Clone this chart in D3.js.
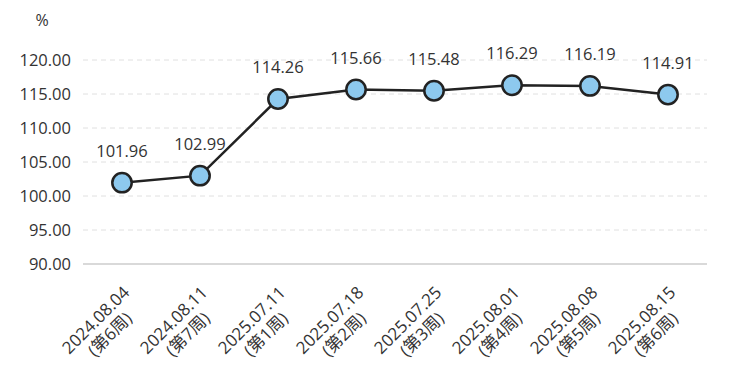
<!DOCTYPE html>
<html>
<head>
<meta charset="utf-8">
<script src="https://cdn.jsdelivr.net/npm/d3@7"></script>
<style>
  body { margin: 0; background: #fff; }
  text { font-family: "Open Sans", "Noto Sans CJK SC", sans-serif; fill: #333; }
</style>
</head>
<body>
<svg id="chart" width="736" height="376"></svg>
<script>
const dates = ['2024.08.04','2024.08.11','2025.07.11','2025.07.18','2025.07.25','2025.08.01','2025.08.08','2025.08.15']
const weeks = ['(第6周)','(第7周)','(第1周)','(第2周)','(第3周)','(第4周)','(第5周)','(第6周)']
const values = [101.96, 102.99, 114.26, 115.66, 115.48, 116.29, 116.19, 114.91]
const yTicks = [90, 95, 100, 105, 110, 115, 120]

const svg = d3.select('#chart')
const margin = {left: 83, right: 29, top: 60, bottom: 112}
const width = 736, height = 376

var x = d3.scaleBand().domain(dates).range([margin.left, width - margin.right])
var y = d3.scaleLinear().domain([90, 120]).range([height - margin.bottom, margin.top])

// gridlines
svg.append('g')
    .selectAll('line')
    .data(yTicks.filter(d => d !== 90))
    .enter()
    .append('line')
    .attr('x1', margin.left).attr('x2', width - margin.right)
    .attr('y1', d => y(d)).attr('y2', d => y(d))
    .attr('stroke', '#e0e0e0')
    .attr('stroke-dasharray', '5,4')

// y labels
svg.append('g')
    .selectAll('text')
    .data(yTicks)
    .enter()
    .append('text')
    .attr('x', 71)
    .attr('y', d => y(d))
    .attr('dy', '0.36em')
    .attr('text-anchor', 'end')
    .style('font-size', '16.5px')
    .text(d => d.toFixed(2))

svg.append('text')
    .attr('x', 42).attr('y', 26)
    .attr('text-anchor', 'middle')
    .style('font-size', '16px')
    .text('%')

// x axis line
svg.append('line')
    .attr('x1', margin.left).attr('x2', width - margin.right)
    .attr('y1', y(90)).attr('y2', y(90))
    .attr('stroke', '#d9d9d9')
    .attr('stroke-width', 2)

// x labels, rotated, two lines centred on each other
const cx = d => x(d) + x.bandwidth() / 2
var xl = svg.append('g')
    .selectAll('text')
    .data(dates)
    .enter()
    .append('text')
    .attr('transform', d => `translate(${cx(d) + 10},${y(90) + 31}) rotate(-45)`)
    .attr('text-anchor', 'middle')
    .style('font-size', '17px')
xl.append('tspan').attr('class', 'l1').attr('y', -2).text(d => d)
xl.append('tspan').attr('class', 'l2').attr('y', 18).text((d, i) => weeks[i])
xl.each(function () {
    const t = d3.select(this)
    const w = t.select('.l1').node().getComputedTextLength()
    t.selectAll('tspan').attr('x', -w / 2)
})

// line
const pts = dates.map((d, i) => [cx(d), y(values[i])])
svg.append('path')
    .attr('d', d3.line()(pts))
    .attr('fill', 'none')
    .attr('stroke', '#222')
    .attr('stroke-width', 2.5)

svg.append('g')
    .selectAll('circle')
    .data(pts)
    .enter()
    .append('circle')
    .attr('cx', d => d[0]).attr('cy', d => d[1])
    .attr('r', 9.7)
    .attr('fill', '#8dc9ee')
    .attr('stroke', '#222')
    .attr('stroke-width', 2.5)

svg.append('g')
    .selectAll('text')
    .data(values)
    .enter()
    .append('text')
    .attr('x', (d, i) => cx(dates[i]))
    .attr('y', d => y(d) - 26)
    .attr('text-anchor', 'middle')
    .style('font-size', '16.5px')
    .text(d => d.toFixed(2))
</script>
</body>
</html>
